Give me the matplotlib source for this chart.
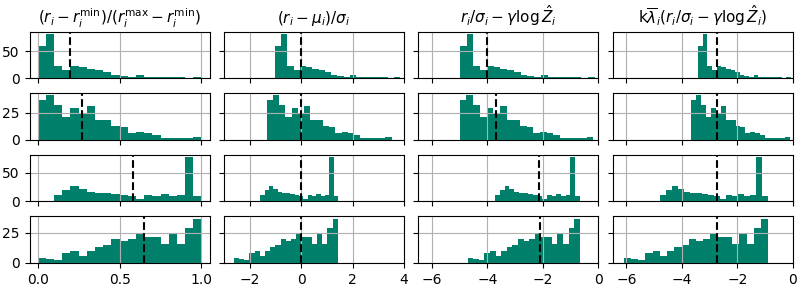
import numpy as np
import matplotlib
matplotlib.use("Agg")
import matplotlib.pyplot as plt

# bar heights per row (20 bins, same shape in every column)
heights_row1 = [61, 83, 23, 16, 23, 21, 17, 16, 11, 6, 4, 2.5, 6, 2.5, 2, 2, 2, 2, 1, 2]
heights_row2 = [37, 41, 32, 21, 29, 24, 31, 18, 18, 13, 12, 6, 7, 6, 4.5, 2, 2, 2, 2, 2.5]
heights_row3 = [0, 1, 10.5, 19, 26, 21, 16, 14.5, 14, 12, 10.5, 10, 3.5, 10.5, 9.5, 12, 9.5, 10.5, 77, 8.5]
heights_row4 = [4, 3, 2.5, 8, 9.5, 5.5, 9.5, 13.5, 14.5, 19.5, 18.5, 20, 23.5, 21, 21, 15.5, 23.5, 15.5, 29, 36.5]
heights = [heights_row1, heights_row2, heights_row3, heights_row4]

# histogram ranges (low, high) per column, one entry per row
ranges_col1 = [(0, 1), (0, 1), (0, 1), (0, 1)]
ranges_col2 = [(-1.02, 3.85), (-1.34, 3.52), (-1.92, 1.43), (-2.61, 1.43)]
ranges_col3 = [(-5.0, -0.13), (-5.0, -0.18), (-4.06, -0.67), (-4.72, -0.67)]
ranges_col4 = [(-3.42, -0.06), (-3.67, -0.1), (-5.23, -0.88), (-6.1, -0.88)]
ranges = [ranges_col1, ranges_col2, ranges_col3, ranges_col4]

# dashed line positions per column, one entry per row
means_col1 = [0.2, 0.27, 0.58, 0.65]
means_col2 = [0, 0, 0, 0]
means_col3 = [-4.0, -3.69, -2.13, -2.12]
means_col4 = [-2.72, -2.72, -2.72, -2.72]
means = [means_col1, means_col2, means_col3, means_col4]

titles = [
    r"$(r_i - r_i^{\mathrm{min}})/(r_i^{\mathrm{max}} - r_i^{\mathrm{min}})$",
    r"$(r_i - \mu_i)/\sigma_i$",
    r"$r_i/\sigma_i - \gamma\log\hat{Z}_i$",
    r"k$\overline{\lambda}_i(r_i/\sigma_i - \gamma\log\hat{Z}_i)$",
]
xlims = [(-0.05, 1.05), (-3, 4), (-6.5, 0), (-6.5, 0)]
xticks = [[0.0, 0.5, 1.0], [-2, 0, 2, 4], [-6, -4, -2, 0], [-6, -4, -2, 0]]
yticks = [[0, 50], [0, 25], [0, 50], [0, 25]]

color = "#00806b"

fig, axes = plt.subplots(4, 4, figsize=(8.02, 2.88), dpi=100, sharex="col", sharey="row")
fig.subplots_adjust(left=0.0368, right=0.9884, top=0.89, bottom=0.087,
                    wspace=0.079, hspace=0.325)

for c in range(4):
    for r in range(4):
        ax = axes[r, c]
        lo, hi = ranges[c][r]
        edges = np.linspace(lo, hi, len(heights[r]) + 1)
        ax.bar(edges[:-1], heights[r], width=np.diff(edges), align="edge",
               color=color, linewidth=0)
        ax.axvline(means[c][r], color="black", linestyle="--", linewidth=1.5)
        ax.grid(True)
        ax.set_yticks(yticks[r])
        ax.set_xlim(*xlims[c])
        ax.set_xticks(xticks[c])
    axes[0, c].set_title(titles[c], fontsize=11)

axes[3, 0].set_xticklabels(["0.0", "0.5", "1.0"])

fig.savefig("out.png", dpi=100)
